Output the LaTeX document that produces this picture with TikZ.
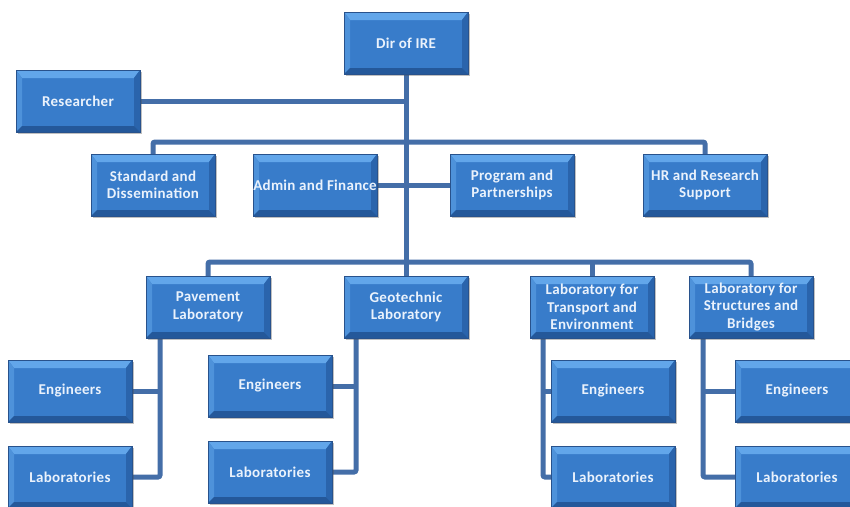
\documentclass[tikz,border=0pt]{standalone}
\usepackage{fontspec}
\newfontfamily\boxfont[LetterSpace=2]{Carlito}
\usetikzlibrary{calc,shadows,backgrounds}

\definecolor{face}{RGB}{56,124,202}
\definecolor{bevtop}{RGB}{98,166,234}
\definecolor{bevleft}{RGB}{78,146,218}
\definecolor{bevright}{RGB}{42,100,172}
\definecolor{bevbottom}{RGB}{36,88,154}
\definecolor{edge}{RGB}{40,82,140}
\definecolor{boxtext}{RGB}{234,242,252}
\definecolor{linkc}{RGB}{68,110,168}

\tikzset{
  orgbox/.style={
    minimum width=124pt, minimum height=62pt, inner xsep=0pt, inner ysep=1pt,
    align=center, text=boxtext,
    font=\boxfont\bfseries\fontsize{15}{17.5}\selectfont,
    fill=face, draw=edge, line width=0.5pt,
    drop shadow={shadow xshift=2pt, shadow yshift=-2pt, opacity=0.35, fill=black!70},
    path picture={
      \coordinate (nw) at (path picture bounding box.north west);
      \coordinate (ne) at (path picture bounding box.north east);
      \coordinate (sw) at (path picture bounding box.south west);
      \coordinate (se) at (path picture bounding box.south east);
      \fill[bevtop] (nw) -- (ne) -- ([shift={(-6pt,-8pt)}]ne) -- ([shift={(6pt,-8pt)}]nw) -- cycle;
      \fill[bevleft] (nw) -- ([shift={(6pt,-8pt)}]nw) -- ([shift={(6pt,6pt)}]sw) -- (sw) -- cycle;
      \fill[bevright] (ne) -- ([shift={(-6pt,-8pt)}]ne) -- ([shift={(-6pt,6pt)}]se) -- (se) -- cycle;
      \fill[bevbottom] (sw) -- ([shift={(6pt,6pt)}]sw) -- ([shift={(-6pt,6pt)}]se) -- (se) -- cycle;
    }},
  link/.style={draw=linkc, line width=5pt, rounded corners=2pt}
}

\begin{document}
\begin{tikzpicture}[x=1pt,y=-1pt]
  \useasboundingbox (0,0) rectangle (850,506);

  % top of the chart
  \node[orgbox] (dir) at (406,43) {Dir of IRE};
  \node[orgbox] (res) at (78,101) {Researcher};

  % units directly under the director
  \node[orgbox] (std) at (153,185) {Standard and\\Dissemination};
  \node[orgbox] (adm) at (315,185) {Admin and Finance};
  \node[orgbox] (prg) at (512,185) {Program and\\Partnerships};
  \node[orgbox] (hr)  at (705,185) {HR and Research\\Support};

  % laboratories
  \node[orgbox] (pav) at (208,307) {Pavement\\Laboratory};
  \node[orgbox] (geo) at (406,307) {Geotechnic\\Laboratory};
  \node[orgbox] (trn) at (592,307) {Laboratory for\\Transport and\\Environment};
  \node[orgbox] (str) at (751,307) {Laboratory for\\Structures and\\Bridges};

  % staff of each laboratory
  \node[orgbox] (pE) at (70,391)  {Engineers};
  \node[orgbox] (pL) at (70,477)  {Laboratories};
  \node[orgbox] (gE) at (270,386) {Engineers};
  \node[orgbox] (gL) at (270,472) {Laboratories};
  \node[orgbox] (tE) at (613,391) {Engineers};
  \node[orgbox] (tL) at (613,477) {Laboratories};
  \node[orgbox] (sE) at (797,391) {Engineers};
  \node[orgbox] (sL) at (797,477) {Laboratories};

  % junctions of the buses and branch lines
  \coordinate (b1) at (406,142);
  \coordinate (b2) at (406,262);
  \coordinate (pv) at ([xshift=-48pt]pav.south);
  \coordinate (gv) at ([xshift=-50pt]geo.south);
  \coordinate (tv) at ([xshift=-49pt]trn.south);
  \coordinate (sv) at ([xshift=-48pt]str.south);

  \begin{pgfonlayer}{background}
    \fill[white] (0,0) rectangle (850,506);
    % trunk and buses
    \draw[link] (dir.south) -- (b2);
    \draw[link] (res.east) -- (res.east -| dir.south);
    \draw[link] (std.north) |- (b1) -| (hr.north);
    \draw[link] (adm.east) -- (adm.east -| b1);
    \draw[link] (prg.west) -- (prg.west -| b1);
    \draw[link] (pav.north) |- (b2) -| (str.north);
    \draw[link] (geo.north) -- (b2);
    \draw[link] (trn.north) -- (trn.north |- b2);
    % laboratory branches
    \draw[link] (pv) |- (pL.east);
    \draw[link] (pE.east) -- (pE.east -| pv);
    \draw[link] (gv) |- (gL.east);
    \draw[link] (gE.east) -- (gE.east -| gv);
    \draw[link] (tv) |- (tL.west);
    \draw[link] (tE.west) -- (tE.west -| tv);
    \draw[link] (sv) |- (sL.west);
    \draw[link] (sE.west) -- (sE.west -| sv);
  \end{pgfonlayer}
\end{tikzpicture}
\end{document}
